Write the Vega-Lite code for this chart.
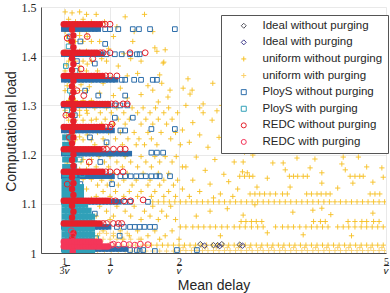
{
"$schema":"https://vega.github.io/schema/vega-lite/v6.json",
"width":345,"height":246,
"autosize":{"type":"none"},
"padding":{"left":41,"top":7,"right":4,"bottom":40},
"background":"white",
"config":{"view":{"stroke":null},
 "axis":{"grid":true,"gridColor":"#e3e3e3","gridWidth":0.8,"domainColor":"#262626","domainWidth":0.8,"tickSize":0,"ticks":false,"labelColor":"#262626","titleColor":"#262626","titleFont":"Liberation Sans","titleFontSize":14,"titleFontWeight":"normal","labelFlush":false,"labelOverlap":false},
 "legend":{"fillColor":"white","strokeColor":"#555555","padding":5,"labelFont":"Liberation Sans","labelFontSize":11.5,"labelColor":"#262626","symbolSize":25,"symbolStrokeWidth":1,"rowPadding":3.6,"labelOffset":13,"symbolOffset":12,"labelLimit":300}},
"datasets":{
"uw":[
{"x":0.35,"y":1.01},{"x":0.45,"y":1.01},{"x":0.56,"y":1.01},{"x":0.66,"y":1.01},
{"x":0.4,"y":1.03},{"x":0.5,"y":1.03},{"x":0.61,"y":1.03},{"x":0.73,"y":1.03},
{"x":0.35,"y":1.05},{"x":0.45,"y":1.05},{"x":0.56,"y":1.05},{"x":0.66,"y":1.05},
{"x":0.4,"y":1.07},{"x":0.5,"y":1.07},{"x":0.61,"y":1.07},{"x":0.73,"y":1.07},
{"x":0.35,"y":1.09},{"x":0.45,"y":1.09},{"x":0.56,"y":1.09},{"x":0.66,"y":1.09},
{"x":0.4,"y":1.11},{"x":0.5,"y":1.11},{"x":0.61,"y":1.11},{"x":0.73,"y":1.11},
{"x":0.35,"y":1.13},{"x":0.45,"y":1.13},{"x":0.56,"y":1.13},{"x":0.66,"y":1.13},
{"x":0.4,"y":1.15},{"x":0.5,"y":1.15},{"x":0.61,"y":1.15},{"x":0.73,"y":1.15},
{"x":0.35,"y":1.17},{"x":0.45,"y":1.17},{"x":0.56,"y":1.17},{"x":0.66,"y":1.17},
{"x":0.4,"y":1.19},{"x":0.5,"y":1.19},{"x":0.61,"y":1.19},{"x":0.73,"y":1.19},
{"x":0.38,"y":1.183},{"x":0.48,"y":1.18},{"x":0.58,"y":1.185},{"x":0.69,"y":1.18},
{"x":0.35,"y":1.21},{"x":0.45,"y":1.21},{"x":0.56,"y":1.21},{"x":0.66,"y":1.21},
{"x":0.4,"y":1.23},{"x":0.5,"y":1.23},{"x":0.61,"y":1.23},{"x":0.73,"y":1.23},
{"x":0.37,"y":1.237},{"x":0.47,"y":1.24},{"x":0.56,"y":1.236},{"x":0.67,"y":1.24},
{"x":0.35,"y":1.25},{"x":0.45,"y":1.25},{"x":0.56,"y":1.25},{"x":0.66,"y":1.25},
{"x":0.4,"y":1.27},{"x":0.5,"y":1.27},{"x":0.61,"y":1.27},{"x":0.73,"y":1.27},
{"x":0.37,"y":1.28},{"x":0.47,"y":1.283},{"x":0.56,"y":1.28},{"x":0.67,"y":1.284},
{"x":0.35,"y":1.29},{"x":0.45,"y":1.29},{"x":0.56,"y":1.29},{"x":0.66,"y":1.29},
{"x":0.4,"y":1.31},{"x":0.5,"y":1.31},{"x":0.61,"y":1.31},{"x":0.73,"y":1.31},
{"x":0.35,"y":1.33},{"x":0.45,"y":1.33},{"x":0.56,"y":1.33},{"x":0.66,"y":1.33},
{"x":0.38,"y":1.34},{"x":0.48,"y":1.338},{"x":0.58,"y":1.342},{"x":0.7,"y":1.338},
{"x":0.4,"y":1.35},{"x":0.5,"y":1.35},{"x":0.61,"y":1.35},{"x":0.73,"y":1.35},
{"x":0.35,"y":1.37},{"x":0.45,"y":1.37},{"x":0.56,"y":1.37},{"x":0.66,"y":1.37},
{"x":0.4,"y":1.39},{"x":0.5,"y":1.39},{"x":0.61,"y":1.39},{"x":0.73,"y":1.39},
{"x":0.37,"y":1.382},{"x":0.47,"y":1.385},{"x":0.56,"y":1.38},{"x":0.67,"y":1.384},
{"x":0.35,"y":1.41},{"x":0.45,"y":1.41},{"x":0.56,"y":1.41},{"x":0.66,"y":1.41},
{"x":0.4,"y":1.43},{"x":0.5,"y":1.43},{"x":0.61,"y":1.43},{"x":0.73,"y":1.43},
{"x":0.37,"y":1.44},{"x":0.47,"y":1.438},{"x":0.56,"y":1.442},{"x":0.67,"y":1.44},
{"x":0.35,"y":1.45},{"x":0.45,"y":1.45},{"x":0.56,"y":1.45},{"x":0.66,"y":1.45},
{"x":0.4,"y":1.475},{"x":0.5,"y":1.47},{"x":0.61,"y":1.475},{"x":0.73,"y":1.47},
{"x":0.35,"y":1.49},{"x":0.45,"y":1.488},{"x":0.56,"y":1.49},{"x":0.66,"y":1.485},
{"x":0.8,"y":1.485},{"x":0.92,"y":1.47},{"x":1.22,"y":1.48},{"x":1.05,"y":1.44},{"x":0.85,"y":1.43},{"x":1.33,"y":1.43},{"x":1.5,"y":1.485},{"x":0.95,"y":1.39},{"x":1.12,"y":1.38},{"x":1.3,"y":1.395},{"x":1.68,"y":1.41},{"x":0.82,"y":1.37},{"x":1.4,"y":1.365},{"x":1.02,"y":1.355},{"x":1.77,"y":1.386},{"x":1.65,"y":1.417},{"x":1.8,"y":1.413},{"x":1.78,"y":1.388},{"x":1.72,"y":1.362},{"x":1.75,"y":1.345},{"x":2.13,"y":1.354},{"x":2.49,"y":1.345},{"x":0.9,"y":1.345},{"x":1.15,"y":1.335},{"x":1.55,"y":1.34},{"x":1.25,"y":1.36},{"x":1.62,"y":1.45},{"x":0.98,"y":1.415},{"x":1.35,"y":1.45},{"x":0.78,"y":1.455},{"x":1.1,"y":1.46},{"x":1.45,"y":1.39},{"x":1.2,"y":1.405},{"x":0.88,"y":1.395},
{"x":2.06,"y":1.335},{"x":1.87,"y":1.331},{"x":2.19,"y":1.331},{"x":2.16,"y":1.323},{"x":1.62,"y":1.331},{"x":1.84,"y":1.317},{"x":1.7,"y":1.307},{"x":2.35,"y":1.303},{"x":2.3,"y":1.295},{"x":2.55,"y":1.289},{"x":1.05,"y":1.32},{"x":1.25,"y":1.315},{"x":1.45,"y":1.322},{"x":0.85,"y":1.325},
{"x":0.78,"y":1.295},{"x":0.95,"y":1.295},{"x":1.1,"y":1.295},{"x":1.32,"y":1.295},{"x":1.48,"y":1.295},{"x":1.66,"y":1.295},{"x":1.85,"y":1.295},
{"x":0.86,"y":1.285},{"x":1.02,"y":1.285},{"x":1.2,"y":1.285},{"x":1.4,"y":1.285},{"x":1.58,"y":1.285},{"x":1.78,"y":1.285},{"x":1.98,"y":1.285},
{"x":0.8,"y":1.272},{"x":0.93,"y":1.272},{"x":1.12,"y":1.272},{"x":1.28,"y":1.272},{"x":1.52,"y":1.272},{"x":1.7,"y":1.272},{"x":1.9,"y":1.272},
{"x":0.88,"y":1.262},{"x":1.05,"y":1.262},{"x":1.22,"y":1.262},{"x":1.45,"y":1.262},{"x":1.62,"y":1.262},{"x":1.82,"y":1.262},
{"x":0.82,"y":1.245},{"x":0.98,"y":1.245},{"x":1.15,"y":1.245},{"x":1.35,"y":1.245},{"x":1.55,"y":1.245},{"x":1.74,"y":1.245},{"x":1.95,"y":1.245},
{"x":0.9,"y":1.232},{"x":1.08,"y":1.232},{"x":1.26,"y":1.232},{"x":1.42,"y":1.232},{"x":1.6,"y":1.232},{"x":1.88,"y":1.232},
{"x":0.78,"y":1.22},{"x":0.95,"y":1.22},{"x":1.18,"y":1.22},{"x":1.38,"y":1.22},{"x":1.5,"y":1.22},{"x":1.68,"y":1.22},{"x":2.02,"y":1.22},
{"x":0.84,"y":1.196},{"x":1.0,"y":1.196},{"x":1.22,"y":1.196},{"x":1.45,"y":1.196},{"x":1.65,"y":1.196},{"x":1.8,"y":1.196},{"x":1.96,"y":1.196},
{"x":0.92,"y":1.185},{"x":1.1,"y":1.185},{"x":1.3,"y":1.185},{"x":1.52,"y":1.185},{"x":1.72,"y":1.185},{"x":1.9,"y":1.185},
{"x":0.8,"y":1.175},{"x":0.98,"y":1.175},{"x":1.18,"y":1.175},{"x":1.4,"y":1.175},{"x":1.6,"y":1.175},{"x":2.05,"y":1.175},
{"x":1.05,"y":1.162},{"x":1.25,"y":1.162},{"x":1.48,"y":1.162},{"x":1.7,"y":1.162},{"x":1.85,"y":1.162},
{"x":0.88,"y":1.148},{"x":1.02,"y":1.148},{"x":1.2,"y":1.148},{"x":1.38,"y":1.148},{"x":1.58,"y":1.148},{"x":1.78,"y":1.148},{"x":1.98,"y":1.148},
{"x":0.82,"y":1.138},{"x":0.96,"y":1.138},{"x":1.12,"y":1.138},{"x":1.32,"y":1.138},{"x":1.55,"y":1.138},{"x":1.72,"y":1.138},{"x":1.92,"y":1.138},
{"x":0.9,"y":1.125},{"x":1.08,"y":1.125},{"x":1.28,"y":1.125},{"x":1.45,"y":1.125},{"x":1.65,"y":1.125},{"x":1.85,"y":1.125},
{"x":0.8,"y":1.115},{"x":1.0,"y":1.115},{"x":1.2,"y":1.115},{"x":1.4,"y":1.115},{"x":1.6,"y":1.115},{"x":1.78,"y":1.115},{"x":1.95,"y":1.115},
{"x":0.85,"y":1.095},{"x":1.1,"y":1.095},{"x":1.35,"y":1.095},{"x":1.62,"y":1.095},{"x":1.88,"y":1.095},
{"x":0.95,"y":1.085},{"x":1.22,"y":1.085},{"x":1.5,"y":1.085},{"x":1.75,"y":1.085},
{"x":0.8,"y":1.075},{"x":1.05,"y":1.075},{"x":1.3,"y":1.075},{"x":1.58,"y":1.075},{"x":1.82,"y":1.075},
{"x":1.0,"y":1.068},{"x":1.45,"y":1.068},{"x":1.7,"y":1.068},{"x":1.95,"y":1.068},
{"x":0.9,"y":1.045},{"x":1.15,"y":1.045},{"x":1.4,"y":1.045},{"x":1.65,"y":1.045},{"x":1.9,"y":1.045},
{"x":0.82,"y":1.035},{"x":1.05,"y":1.035},{"x":1.28,"y":1.035},{"x":1.55,"y":1.035},{"x":1.8,"y":1.035},
{"x":1.18,"y":1.028},{"x":1.45,"y":1.028},{"x":1.72,"y":1.028},{"x":2.0,"y":1.028},
{"x":2.1,"y":1.3},{"x":2.35,"y":1.285},{"x":2.62,"y":1.3},{"x":2.85,"y":1.28},{"x":2.2,"y":1.265},{"x":2.48,"y":1.27},{"x":2.75,"y":1.255},{"x":2.05,"y":1.25},{"x":2.3,"y":1.24},{"x":2.58,"y":1.235},{"x":2.9,"y":1.24},{"x":2.15,"y":1.225},{"x":2.42,"y":1.215},{"x":2.68,"y":1.22},{"x":2.95,"y":1.205},{"x":2.25,"y":1.195},{"x":2.52,"y":1.19},{"x":2.8,"y":1.185},{"x":2.1,"y":1.175},{"x":2.38,"y":1.168},{"x":2.65,"y":1.16},{"x":2.92,"y":1.165},{"x":2.2,"y":1.148},{"x":2.45,"y":1.14},{"x":2.72,"y":1.145},{"x":2.05,"y":1.13},{"x":2.3,"y":1.125},{"x":2.6,"y":1.12},{"x":2.85,"y":1.13},{"x":2.15,"y":1.115},{"x":2.5,"y":1.112},{"x":2.78,"y":1.115},
{"x":4.19,"y":1.22},{"x":4.45,"y":1.222},{"x":4.58,"y":1.215},{"x":4.77,"y":1.22},{"x":3.49,"y":1.226},{"x":3.28,"y":1.226},{"x":3.71,"y":1.193},{"x":3.97,"y":1.191},{"x":3.51,"y":1.183},{"x":3.36,"y":1.183},{"x":4.38,"y":1.195},{"x":4.6,"y":1.195},{"x":4.72,"y":1.175},{"x":4.36,"y":1.181},{"x":3.9,"y":1.173},{"x":3.54,"y":1.169},{"x":4.07,"y":1.163},{"x":4.41,"y":1.169},{"x":4.94,"y":1.173},{"x":4.81,"y":1.144},{"x":4.96,"y":1.154},{"x":4.52,"y":1.142},{"x":4.3,"y":1.132},{"x":3.61,"y":1.134},{"x":4.07,"y":1.142},{"x":3.28,"y":1.152},{"x":3.13,"y":1.134},{"x":2.99,"y":1.163},{"x":2.93,"y":1.185},{"x":3.07,"y":1.199},{"x":3.1,"y":1.098},{"x":3.65,"y":1.083},{"x":3.94,"y":1.087},{"x":4.07,"y":1.091},{"x":4.81,"y":1.081},{"x":2.93,"y":1.077},{"x":3.28,"y":1.041},{"x":3.8,"y":1.037},{"x":3.3,"y":1.26},{"x":3.05,"y":1.245},{"x":3.75,"y":1.25},{"x":4.2,"y":1.265},{"x":4.85,"y":1.255},{"x":3.55,"y":1.28},{"x":2.45,"y":1.085},{"x":2.7,"y":1.09},{"x":2.25,"y":1.075},{"x":2.6,"y":1.035},{"x":4.5,"y":1.035},{"x":4.2,"y":1.078},
{"x":2.88,"y":1.156},{"x":2.95,"y":1.156},{"x":3.02,"y":1.156},{"x":3.07,"y":1.156},{"x":3.6,"y":1.156},{"x":3.66,"y":1.156},{"x":3.72,"y":1.156},{"x":3.8,"y":1.156},{"x":3.86,"y":1.156},{"x":4.48,"y":1.156},{"x":4.55,"y":1.156},{"x":4.62,"y":1.156},{"x":4.67,"y":1.156},
{"x":3.03,"y":1.12},{"x":3.1,"y":1.12},{"x":3.17,"y":1.12},{"x":3.24,"y":1.12},{"x":3.32,"y":1.12},{"x":3.4,"y":1.12},{"x":3.5,"y":1.12},{"x":3.57,"y":1.12},{"x":3.85,"y":1.12},{"x":3.92,"y":1.12},{"x":4.0,"y":1.12},{"x":4.06,"y":1.12},{"x":4.13,"y":1.12},{"x":4.19,"y":1.12},{"x":4.77,"y":1.12},{"x":4.84,"y":1.12},{"x":4.91,"y":1.12},
{"x":1.62,"y":1.104},{"x":1.7,"y":1.104},{"x":1.78,"y":1.104},{"x":1.86,"y":1.104},{"x":1.94,"y":1.104},{"x":2.02,"y":1.104},{"x":2.1,"y":1.104},{"x":2.18,"y":1.104},{"x":2.26,"y":1.104},{"x":2.34,"y":1.104},{"x":2.42,"y":1.104},{"x":2.5,"y":1.104},{"x":2.58,"y":1.104},{"x":2.66,"y":1.104},{"x":2.74,"y":1.104},{"x":2.82,"y":1.104},{"x":2.9,"y":1.104},{"x":2.98,"y":1.104},{"x":3.06,"y":1.104},{"x":3.14,"y":1.104},{"x":3.22,"y":1.104},{"x":3.3,"y":1.104},{"x":3.38,"y":1.104},{"x":3.46,"y":1.104},{"x":3.54,"y":1.104},{"x":3.62,"y":1.104},{"x":3.7,"y":1.104},{"x":3.78,"y":1.104},{"x":3.86,"y":1.104},{"x":3.94,"y":1.104},{"x":4.02,"y":1.104},{"x":4.1,"y":1.104},{"x":4.18,"y":1.104},{"x":4.26,"y":1.104},{"x":4.34,"y":1.104},{"x":4.42,"y":1.104},{"x":4.5,"y":1.104},{"x":4.58,"y":1.104},{"x":4.66,"y":1.104},{"x":4.74,"y":1.104},{"x":4.82,"y":1.104},{"x":4.9,"y":1.104},{"x":4.98,"y":1.104},
{"x":2.9,"y":1.064},{"x":2.97,"y":1.064},{"x":3.05,"y":1.064},{"x":3.12,"y":1.064},{"x":3.2,"y":1.064},{"x":3.95,"y":1.064},{"x":4.05,"y":1.064},{"x":4.12,"y":1.064},{"x":4.45,"y":1.064},{"x":4.55,"y":1.064},{"x":4.65,"y":1.064},{"x":4.72,"y":1.064},{"x":4.82,"y":1.064},{"x":4.9,"y":1.064},
{"x":2.02,"y":1.053},{"x":2.1,"y":1.053},{"x":2.2,"y":1.053},{"x":2.28,"y":1.053},{"x":2.36,"y":1.053},{"x":2.45,"y":1.053},{"x":2.53,"y":1.053},{"x":2.62,"y":1.053},{"x":2.7,"y":1.053},{"x":2.8,"y":1.053},{"x":2.88,"y":1.053},{"x":2.96,"y":1.053},{"x":3.05,"y":1.053},{"x":3.14,"y":1.053},{"x":3.22,"y":1.053},{"x":3.4,"y":1.053},{"x":3.5,"y":1.053},{"x":3.58,"y":1.053},{"x":3.66,"y":1.053},{"x":3.75,"y":1.053},{"x":3.84,"y":1.053},{"x":3.92,"y":1.053},{"x":4.0,"y":1.053},{"x":4.08,"y":1.053},{"x":4.16,"y":1.053},{"x":4.3,"y":1.053},{"x":4.38,"y":1.053},{"x":4.46,"y":1.053},{"x":4.55,"y":1.053},{"x":4.64,"y":1.053},{"x":4.72,"y":1.053},{"x":4.8,"y":1.053},{"x":4.88,"y":1.053},{"x":4.96,"y":1.053},
{"x":1.52,"y":1.016},{"x":1.6,"y":1.016},{"x":1.68,"y":1.016},{"x":1.76,"y":1.016},{"x":1.84,"y":1.016},{"x":1.92,"y":1.016},{"x":2.0,"y":1.016},{"x":2.08,"y":1.016},{"x":2.16,"y":1.016},{"x":2.24,"y":1.016},{"x":2.32,"y":1.016},{"x":2.4,"y":1.016},{"x":2.48,"y":1.016},{"x":2.56,"y":1.016},{"x":2.64,"y":1.016},{"x":2.72,"y":1.016},{"x":2.8,"y":1.016},{"x":2.88,"y":1.016},{"x":2.96,"y":1.016},{"x":3.04,"y":1.016},{"x":3.12,"y":1.016},{"x":3.2,"y":1.016},{"x":3.28,"y":1.016},{"x":3.36,"y":1.016},{"x":3.44,"y":1.016},{"x":3.52,"y":1.016},{"x":3.6,"y":1.016},{"x":3.68,"y":1.016},{"x":3.76,"y":1.016},{"x":3.84,"y":1.016},{"x":3.92,"y":1.016},{"x":4.0,"y":1.016},{"x":4.08,"y":1.016},{"x":4.16,"y":1.016},{"x":4.24,"y":1.016},{"x":4.32,"y":1.016},{"x":4.4,"y":1.016},{"x":4.48,"y":1.016},{"x":4.56,"y":1.016},{"x":4.64,"y":1.016},{"x":4.72,"y":1.016},{"x":4.8,"y":1.016},{"x":4.88,"y":1.016},{"x":4.96,"y":1.016}
],
"up":[
{"x":0.62,"y":1.004},{"x":0.72,"y":1.004},{"x":0.82,"y":1.004},{"x":0.92,"y":1.004},{"x":1.02,"y":1.004},{"x":1.12,"y":1.004},{"x":1.22,"y":1.004},{"x":1.32,"y":1.004},{"x":1.42,"y":1.004},{"x":1.52,"y":1.004},{"x":1.62,"y":1.004},{"x":1.72,"y":1.004},{"x":1.82,"y":1.004},{"x":1.92,"y":1.004},
{"x":0.67,"y":1.016},{"x":0.77,"y":1.016},{"x":0.87,"y":1.016},{"x":0.97,"y":1.016},{"x":1.07,"y":1.016},{"x":1.17,"y":1.016},{"x":1.27,"y":1.016},{"x":1.37,"y":1.016},{"x":1.47,"y":1.016},
{"x":0.7,"y":1.028},{"x":0.8,"y":1.028},{"x":0.9,"y":1.028},{"x":1.0,"y":1.028},{"x":1.1,"y":1.028},{"x":1.2,"y":1.028},{"x":1.3,"y":1.028},{"x":1.42,"y":1.028},
{"x":0.75,"y":1.04},{"x":0.85,"y":1.04},{"x":0.95,"y":1.04},{"x":1.05,"y":1.04},{"x":1.15,"y":1.04},{"x":1.25,"y":1.04},
{"x":2.02,"y":1.005},{"x":2.1,"y":1.005},{"x":2.18,"y":1.005},{"x":2.26,"y":1.005},{"x":2.34,"y":1.005},{"x":2.42,"y":1.005},{"x":2.5,"y":1.005},{"x":2.58,"y":1.005},{"x":2.66,"y":1.005},{"x":2.74,"y":1.005},{"x":2.82,"y":1.005},{"x":2.9,"y":1.005},{"x":2.98,"y":1.005},{"x":3.06,"y":1.005},{"x":3.14,"y":1.005},{"x":3.22,"y":1.005},{"x":3.3,"y":1.005},{"x":3.38,"y":1.005},{"x":3.46,"y":1.005},{"x":3.54,"y":1.005},{"x":3.62,"y":1.005},{"x":3.7,"y":1.005},{"x":3.78,"y":1.005},{"x":3.86,"y":1.005},{"x":3.94,"y":1.005},{"x":4.02,"y":1.005},{"x":4.1,"y":1.005},{"x":4.18,"y":1.005},{"x":4.26,"y":1.005},{"x":4.34,"y":1.005},{"x":4.42,"y":1.005},{"x":4.5,"y":1.005},{"x":4.58,"y":1.005},{"x":4.66,"y":1.005},{"x":4.74,"y":1.005},{"x":4.82,"y":1.005},{"x":4.9,"y":1.005},{"x":4.98,"y":1.005},
{"x":2.06,"y":1.011},{"x":2.22,"y":1.011},{"x":2.38,"y":1.011},{"x":2.54,"y":1.011},{"x":2.7,"y":1.011},{"x":2.86,"y":1.011},{"x":3.02,"y":1.011},{"x":3.18,"y":1.011},{"x":3.34,"y":1.011},{"x":3.5,"y":1.011},{"x":3.66,"y":1.011},{"x":3.82,"y":1.011},{"x":3.98,"y":1.011},{"x":4.14,"y":1.011},{"x":4.3,"y":1.011},{"x":4.46,"y":1.011},{"x":4.62,"y":1.011},{"x":4.78,"y":1.011},{"x":4.94,"y":1.011}
],
"iw":[{"x":2.31,"y":1.018},{"x":2.5,"y":1.016},{"x":2.56,"y":1.016},{"x":2.62,"y":1.018},{"x":2.88,"y":1.017}],
"ip":[{"x":2.37,"y":1.015},{"x":2.59,"y":1.014},{"x":2.92,"y":1.015}],
"pws":[
{"x":0.33,"y":1.455},{"x":0.38,"y":1.455},{"x":0.43,"y":1.455},{"x":0.48,"y":1.455},{"x":0.53,"y":1.455},{"x":0.58,"y":1.455},{"x":0.63,"y":1.455},{"x":0.68,"y":1.455},{"x":0.73,"y":1.455},{"x":0.78,"y":1.455},{"x":0.83,"y":1.455},
{"x":0.33,"y":1.404},{"x":0.38,"y":1.404},{"x":0.43,"y":1.404},{"x":0.48,"y":1.404},{"x":0.53,"y":1.404},{"x":0.58,"y":1.404},{"x":0.63,"y":1.404},{"x":0.68,"y":1.404},{"x":0.73,"y":1.404},{"x":0.78,"y":1.404},{"x":0.83,"y":1.404},{"x":0.88,"y":1.404},
{"x":0.33,"y":1.352},{"x":0.38,"y":1.352},{"x":0.43,"y":1.352},{"x":0.48,"y":1.352},{"x":0.53,"y":1.352},{"x":0.58,"y":1.352},{"x":0.63,"y":1.352},{"x":0.68,"y":1.352},{"x":0.73,"y":1.352},{"x":0.78,"y":1.352},{"x":0.83,"y":1.352},{"x":0.88,"y":1.352},{"x":0.93,"y":1.352},{"x":0.98,"y":1.352},{"x":1.03,"y":1.352},{"x":1.08,"y":1.352},
{"x":0.33,"y":1.3},{"x":0.38,"y":1.3},{"x":0.43,"y":1.3},{"x":0.48,"y":1.3},{"x":0.53,"y":1.3},{"x":0.58,"y":1.3},{"x":0.63,"y":1.3},{"x":0.68,"y":1.3},{"x":0.73,"y":1.3},{"x":0.78,"y":1.3},{"x":0.83,"y":1.3},{"x":0.88,"y":1.3},{"x":0.93,"y":1.3},{"x":0.98,"y":1.3},
{"x":0.33,"y":1.249},{"x":0.38,"y":1.249},{"x":0.43,"y":1.249},{"x":0.48,"y":1.249},{"x":0.53,"y":1.249},{"x":0.58,"y":1.249},{"x":0.63,"y":1.249},{"x":0.68,"y":1.249},{"x":0.73,"y":1.249},{"x":0.78,"y":1.249},{"x":0.83,"y":1.249},{"x":0.88,"y":1.249},{"x":0.93,"y":1.249},{"x":0.98,"y":1.249},{"x":1.03,"y":1.249},
{"x":0.33,"y":1.202},{"x":0.38,"y":1.202},{"x":0.43,"y":1.202},{"x":0.48,"y":1.202},{"x":0.53,"y":1.202},{"x":0.58,"y":1.202},{"x":0.63,"y":1.202},{"x":0.68,"y":1.202},{"x":0.73,"y":1.202},{"x":0.78,"y":1.202},{"x":0.83,"y":1.202},{"x":0.88,"y":1.202},{"x":0.93,"y":1.202},{"x":0.98,"y":1.202},{"x":1.03,"y":1.202},{"x":1.08,"y":1.202},{"x":1.13,"y":1.202},{"x":1.18,"y":1.202},{"x":1.23,"y":1.202},{"x":1.28,"y":1.202},
{"x":0.33,"y":1.156},{"x":0.38,"y":1.156},{"x":0.43,"y":1.156},{"x":0.48,"y":1.156},{"x":0.53,"y":1.156},{"x":0.58,"y":1.156},{"x":0.63,"y":1.156},{"x":0.68,"y":1.156},{"x":0.73,"y":1.156},{"x":0.78,"y":1.156},{"x":0.83,"y":1.156},{"x":0.88,"y":1.156},{"x":0.93,"y":1.156},{"x":0.98,"y":1.156},{"x":1.03,"y":1.156},
{"x":0.33,"y":1.104},{"x":0.38,"y":1.104},{"x":0.43,"y":1.104},{"x":0.48,"y":1.104},{"x":0.53,"y":1.104},{"x":0.58,"y":1.104},{"x":0.63,"y":1.104},{"x":0.68,"y":1.104},{"x":0.73,"y":1.104},{"x":0.78,"y":1.104},{"x":0.83,"y":1.104},{"x":0.88,"y":1.104},{"x":0.93,"y":1.104},{"x":0.98,"y":1.104},{"x":1.03,"y":1.104},{"x":1.08,"y":1.104},{"x":1.13,"y":1.104},
{"x":0.33,"y":1.053},{"x":0.38,"y":1.053},{"x":0.43,"y":1.053},{"x":0.48,"y":1.053},{"x":0.53,"y":1.053},{"x":0.58,"y":1.053},{"x":0.63,"y":1.053},{"x":0.68,"y":1.053},{"x":0.73,"y":1.053},{"x":0.78,"y":1.053},{"x":0.83,"y":1.053},{"x":0.88,"y":1.053},{"x":0.93,"y":1.053},{"x":0.98,"y":1.053},
{"x":0.33,"y":1.008},{"x":0.38,"y":1.008},{"x":0.43,"y":1.008},{"x":0.48,"y":1.008},{"x":0.53,"y":1.008},{"x":0.58,"y":1.008},{"x":0.63,"y":1.008},{"x":0.68,"y":1.008},{"x":0.73,"y":1.008},{"x":0.78,"y":1.008},{"x":0.83,"y":1.008},{"x":0.88,"y":1.008},{"x":0.93,"y":1.008},{"x":0.98,"y":1.008},{"x":1.03,"y":1.008},{"x":1.08,"y":1.008},{"x":1.13,"y":1.008},{"x":1.18,"y":1.008},{"x":1.23,"y":1.008}
],
"pw":[
{"x":0.93,"y":1.455},{"x":1.0,"y":1.455},{"x":1.12,"y":1.455},{"x":1.33,"y":1.455},{"x":1.42,"y":1.455},{"x":1.58,"y":1.455},{"x":1.94,"y":1.455},
{"x":0.95,"y":1.404},{"x":1.07,"y":1.404},{"x":1.17,"y":1.404},{"x":1.29,"y":1.404},{"x":1.39,"y":1.404},{"x":1.43,"y":1.404},
{"x":1.17,"y":1.352},{"x":1.22,"y":1.352},{"x":1.35,"y":1.352},{"x":1.45,"y":1.352},{"x":1.62,"y":1.352},{"x":1.68,"y":1.352},
{"x":1.07,"y":1.3},{"x":1.15,"y":1.3},{"x":1.25,"y":1.3},
{"x":1.15,"y":1.249},{"x":1.22,"y":1.249},{"x":1.6,"y":1.252},{"x":1.94,"y":1.252},
{"x":1.6,"y":1.204},{"x":1.68,"y":1.204},{"x":1.77,"y":1.204},
{"x":1.15,"y":1.156},{"x":1.22,"y":1.156},{"x":1.3,"y":1.156},{"x":1.38,"y":1.156},{"x":1.45,"y":1.156},{"x":1.52,"y":1.156},{"x":1.6,"y":1.156},{"x":1.67,"y":1.156},{"x":1.72,"y":1.156},{"x":1.87,"y":1.156},
{"x":1.22,"y":1.104},{"x":1.29,"y":1.104},{"x":1.55,"y":1.104},
{"x":1.1,"y":1.053},{"x":1.2,"y":1.053},{"x":1.29,"y":1.053},{"x":1.36,"y":1.053},{"x":1.43,"y":1.053},{"x":1.5,"y":1.053},{"x":1.58,"y":1.053},{"x":1.65,"y":1.053},
{"x":1.29,"y":1.006},{"x":1.39,"y":1.006},{"x":1.43,"y":1.004},{"x":1.48,"y":1.006},{"x":1.65,"y":1.004},{"x":1.97,"y":1.006},{"x":2.26,"y":1.006},
{"x":0.42,"y":1.44},{"x":0.57,"y":1.43},{"x":0.52,"y":1.39},{"x":0.78,"y":1.385},{"x":0.93,"y":1.425},{"x":0.64,"y":1.33},{"x":0.83,"y":1.32},{"x":1.07,"y":1.275},{"x":0.49,"y":1.28},{"x":0.71,"y":1.235},{"x":0.86,"y":1.185},{"x":0.57,"y":1.14},{"x":1.03,"y":1.14},{"x":0.78,"y":1.08},{"x":1.14,"y":1.035},{"x":1.22,"y":1.32},{"x":1.33,"y":1.275},{"x":0.95,"y":1.225}
],
"pps":[
{"x":0.34,"y":1.002},{"x":0.39,"y":1.002},{"x":0.44,"y":1.002},{"x":0.49,"y":1.002},{"x":0.54,"y":1.002},{"x":0.59,"y":1.002},{"x":0.64,"y":1.002},{"x":0.69,"y":1.002},{"x":0.74,"y":1.002},
{"x":0.34,"y":1.014},{"x":0.39,"y":1.014},{"x":0.44,"y":1.014},{"x":0.49,"y":1.014},{"x":0.54,"y":1.014},{"x":0.59,"y":1.014},{"x":0.64,"y":1.014},{"x":0.69,"y":1.014},{"x":0.74,"y":1.014},
{"x":0.34,"y":1.026},{"x":0.39,"y":1.026},{"x":0.44,"y":1.026},{"x":0.49,"y":1.026},{"x":0.54,"y":1.026},{"x":0.59,"y":1.026},{"x":0.64,"y":1.026},{"x":0.69,"y":1.026},{"x":0.74,"y":1.026},
{"x":0.34,"y":1.038},{"x":0.39,"y":1.038},{"x":0.44,"y":1.038},{"x":0.49,"y":1.038},{"x":0.54,"y":1.038},{"x":0.59,"y":1.038},{"x":0.64,"y":1.038},{"x":0.69,"y":1.038},{"x":0.74,"y":1.038},
{"x":0.34,"y":1.05},{"x":0.39,"y":1.05},{"x":0.44,"y":1.05},{"x":0.49,"y":1.05},{"x":0.54,"y":1.05},{"x":0.59,"y":1.05},{"x":0.64,"y":1.05},{"x":0.69,"y":1.05},{"x":0.74,"y":1.05},
{"x":0.34,"y":1.062},{"x":0.39,"y":1.062},{"x":0.44,"y":1.062},{"x":0.49,"y":1.062},{"x":0.54,"y":1.062},{"x":0.59,"y":1.062},{"x":0.64,"y":1.062},{"x":0.69,"y":1.062},{"x":0.74,"y":1.062},
{"x":0.34,"y":1.074},{"x":0.39,"y":1.074},{"x":0.44,"y":1.074},{"x":0.49,"y":1.074},{"x":0.54,"y":1.074},{"x":0.59,"y":1.074},{"x":0.64,"y":1.074},{"x":0.69,"y":1.074},{"x":0.74,"y":1.074},
{"x":0.34,"y":1.086},{"x":0.39,"y":1.086},{"x":0.44,"y":1.086},{"x":0.49,"y":1.086},{"x":0.54,"y":1.086},{"x":0.59,"y":1.086},{"x":0.64,"y":1.086},{"x":0.69,"y":1.086},
{"x":0.34,"y":1.098},{"x":0.39,"y":1.098},{"x":0.44,"y":1.098},{"x":0.49,"y":1.098},{"x":0.54,"y":1.098},{"x":0.59,"y":1.098},{"x":0.64,"y":1.098},
{"x":0.34,"y":1.11},{"x":0.4,"y":1.11},{"x":0.46,"y":1.11},{"x":0.52,"y":1.11},{"x":0.58,"y":1.11},
{"x":0.34,"y":1.122},{"x":0.4,"y":1.122},{"x":0.46,"y":1.122},{"x":0.52,"y":1.122},{"x":0.58,"y":1.122},
{"x":0.34,"y":1.134},{"x":0.4,"y":1.134},{"x":0.46,"y":1.134},{"x":0.52,"y":1.134},{"x":0.58,"y":1.134},
{"x":0.34,"y":1.146},{"x":0.4,"y":1.146},{"x":0.46,"y":1.146},{"x":0.52,"y":1.146},
{"x":0.35,"y":1.16},{"x":0.42,"y":1.16},{"x":0.48,"y":1.16},
{"x":0.35,"y":1.175},{"x":0.42,"y":1.175},{"x":0.48,"y":1.175},
{"x":0.35,"y":1.19},{"x":0.42,"y":1.19},{"x":0.48,"y":1.19},
{"x":0.35,"y":1.205},{"x":0.42,"y":1.205},
{"x":0.35,"y":1.22},{"x":0.42,"y":1.22},
{"x":0.35,"y":1.235},{"x":0.42,"y":1.235}
],
"pp":[
{"x":0.38,"y":1.29},{"x":0.42,"y":1.33},{"x":0.36,"y":1.38},{"x":0.4,"y":1.42},{"x":0.45,"y":1.32},{"x":0.5,"y":1.37},{"x":0.6,"y":1.16},{"x":0.56,"y":1.19},{"x":0.8,"y":1.03},{"x":0.84,"y":1.012},{"x":0.78,"y":1.06}
],
"rws":[
{"x":0.33,"y":1.465},{"x":0.37,"y":1.465},{"x":0.41,"y":1.465},{"x":0.45,"y":1.465},{"x":0.49,"y":1.465},{"x":0.53,"y":1.465},{"x":0.57,"y":1.465},{"x":0.61,"y":1.465},{"x":0.65,"y":1.465},{"x":0.69,"y":1.465},{"x":0.73,"y":1.465},{"x":0.77,"y":1.465},{"x":0.81,"y":1.465},{"x":0.85,"y":1.465},
{"x":0.33,"y":1.407},{"x":0.37,"y":1.407},{"x":0.41,"y":1.407},{"x":0.45,"y":1.407},{"x":0.49,"y":1.407},{"x":0.53,"y":1.407},{"x":0.57,"y":1.407},{"x":0.61,"y":1.407},{"x":0.65,"y":1.407},{"x":0.69,"y":1.407},{"x":0.73,"y":1.407},{"x":0.77,"y":1.407},{"x":0.81,"y":1.407},
{"x":0.33,"y":1.36},{"x":0.37,"y":1.36},{"x":0.41,"y":1.36},{"x":0.45,"y":1.36},{"x":0.49,"y":1.36},{"x":0.53,"y":1.36},{"x":0.57,"y":1.36},{"x":0.61,"y":1.36},{"x":0.65,"y":1.36},{"x":0.69,"y":1.36},{"x":0.73,"y":1.36},{"x":0.77,"y":1.36},{"x":0.81,"y":1.36},{"x":0.85,"y":1.36},{"x":0.89,"y":1.36},
{"x":0.33,"y":1.303},{"x":0.37,"y":1.303},{"x":0.41,"y":1.303},{"x":0.45,"y":1.303},{"x":0.49,"y":1.303},{"x":0.53,"y":1.303},{"x":0.57,"y":1.303},{"x":0.61,"y":1.303},{"x":0.65,"y":1.303},{"x":0.69,"y":1.303},{"x":0.73,"y":1.303},{"x":0.77,"y":1.303},{"x":0.81,"y":1.303},{"x":0.85,"y":1.303},{"x":0.89,"y":1.303},{"x":0.93,"y":1.303},{"x":0.97,"y":1.303},
{"x":0.33,"y":1.256},{"x":0.37,"y":1.256},{"x":0.41,"y":1.256},{"x":0.45,"y":1.256},{"x":0.49,"y":1.256},{"x":0.53,"y":1.256},{"x":0.57,"y":1.256},{"x":0.61,"y":1.256},{"x":0.65,"y":1.256},{"x":0.69,"y":1.256},{"x":0.73,"y":1.256},{"x":0.77,"y":1.256},{"x":0.81,"y":1.256},{"x":0.85,"y":1.256},{"x":0.89,"y":1.256},
{"x":0.33,"y":1.211},{"x":0.37,"y":1.211},{"x":0.41,"y":1.211},{"x":0.45,"y":1.211},{"x":0.49,"y":1.211},{"x":0.53,"y":1.211},{"x":0.57,"y":1.211},{"x":0.61,"y":1.211},{"x":0.65,"y":1.211},{"x":0.69,"y":1.211},{"x":0.73,"y":1.211},{"x":0.77,"y":1.211},{"x":0.81,"y":1.211},{"x":0.85,"y":1.211},
{"x":0.33,"y":1.165},{"x":0.37,"y":1.165},{"x":0.41,"y":1.165},{"x":0.45,"y":1.165},{"x":0.49,"y":1.165},{"x":0.53,"y":1.165},{"x":0.57,"y":1.165},{"x":0.61,"y":1.165},{"x":0.65,"y":1.165},{"x":0.69,"y":1.165},{"x":0.73,"y":1.165},{"x":0.77,"y":1.165},{"x":0.81,"y":1.165},{"x":0.85,"y":1.165},{"x":0.89,"y":1.165},
{"x":0.33,"y":1.106},{"x":0.37,"y":1.106},{"x":0.41,"y":1.106},{"x":0.45,"y":1.106},{"x":0.49,"y":1.106},{"x":0.53,"y":1.106},{"x":0.57,"y":1.106},{"x":0.61,"y":1.106},{"x":0.65,"y":1.106},{"x":0.69,"y":1.106},{"x":0.73,"y":1.106},{"x":0.77,"y":1.106},{"x":0.81,"y":1.106},{"x":0.85,"y":1.106},{"x":0.89,"y":1.106},{"x":0.93,"y":1.106},{"x":0.97,"y":1.106},
{"x":0.33,"y":1.06},{"x":0.37,"y":1.06},{"x":0.41,"y":1.06},{"x":0.45,"y":1.06},{"x":0.49,"y":1.06},{"x":0.53,"y":1.06},{"x":0.57,"y":1.06},{"x":0.61,"y":1.06},{"x":0.65,"y":1.06},{"x":0.69,"y":1.06},{"x":0.73,"y":1.06},{"x":0.77,"y":1.06},{"x":0.81,"y":1.06},{"x":0.85,"y":1.06},
{"x":0.45,"y":1.028},{"x":0.47,"y":1.04},{"x":0.45,"y":1.072},{"x":0.47,"y":1.084},{"x":0.45,"y":1.096},{"x":0.47,"y":1.118},{"x":0.45,"y":1.13},{"x":0.47,"y":1.142},{"x":0.45,"y":1.154},{"x":0.47,"y":1.177},{"x":0.45,"y":1.189},{"x":0.47,"y":1.2},{"x":0.45,"y":1.223},{"x":0.47,"y":1.235},{"x":0.45,"y":1.247},{"x":0.47,"y":1.268},{"x":0.45,"y":1.28},{"x":0.47,"y":1.292},{"x":0.45,"y":1.315},{"x":0.47,"y":1.327},{"x":0.45,"y":1.339},{"x":0.47,"y":1.35},{"x":0.45,"y":1.372},{"x":0.47,"y":1.384},{"x":0.45,"y":1.396},{"x":0.47,"y":1.418},{"x":0.45,"y":1.43},{"x":0.47,"y":1.442},{"x":0.45,"y":1.454}
],
"rw":[
{"x":0.89,"y":1.465},{"x":0.93,"y":1.465},{"x":1.0,"y":1.465},
{"x":0.86,"y":1.407},{"x":0.9,"y":1.407},{"x":1.0,"y":1.407},{"x":1.29,"y":1.407},{"x":1.51,"y":1.407},
{"x":0.94,"y":1.36},{"x":1.0,"y":1.36},{"x":1.1,"y":1.36},
{"x":1.02,"y":1.303},{"x":1.08,"y":1.303},{"x":1.19,"y":1.303},{"x":1.25,"y":1.303},
{"x":0.94,"y":1.256},{"x":1.0,"y":1.256},{"x":1.03,"y":1.262},
{"x":0.9,"y":1.211},{"x":0.95,"y":1.211},{"x":1.05,"y":1.211},{"x":1.15,"y":1.211},{"x":1.22,"y":1.211},
{"x":0.94,"y":1.165},{"x":1.0,"y":1.165},{"x":1.1,"y":1.165},{"x":1.19,"y":1.165},
{"x":1.02,"y":1.106},{"x":1.08,"y":1.106},{"x":1.2,"y":1.106},{"x":1.3,"y":1.106},{"x":1.48,"y":1.108},
{"x":0.9,"y":1.06},{"x":0.95,"y":1.06},{"x":1.05,"y":1.06},{"x":1.12,"y":1.06},{"x":1.17,"y":1.06},
{"x":0.38,"y":1.437},{"x":0.58,"y":1.374},{"x":0.75,"y":1.395},{"x":0.62,"y":1.32},{"x":0.36,"y":1.28},{"x":0.41,"y":1.235},{"x":0.7,"y":1.185},{"x":0.38,"y":1.14},{"x":0.52,"y":1.33},{"x":0.67,"y":1.44}
],
"rps":[
{"x":0.33,"y":1.013},{"x":0.37,"y":1.013},{"x":0.41,"y":1.013},{"x":0.45,"y":1.013},{"x":0.49,"y":1.013},{"x":0.53,"y":1.013},{"x":0.57,"y":1.013},{"x":0.61,"y":1.013},{"x":0.65,"y":1.013},{"x":0.69,"y":1.013},{"x":0.73,"y":1.013},{"x":0.77,"y":1.013},{"x":0.81,"y":1.013},{"x":0.85,"y":1.013},{"x":0.89,"y":1.013},{"x":0.93,"y":1.013},{"x":0.97,"y":1.013},
{"x":0.33,"y":1.023},{"x":0.37,"y":1.023},{"x":0.41,"y":1.023},{"x":0.45,"y":1.023},{"x":0.49,"y":1.023},{"x":0.53,"y":1.023},{"x":0.57,"y":1.023},{"x":0.61,"y":1.023},{"x":0.65,"y":1.023},{"x":0.69,"y":1.023},{"x":0.73,"y":1.023},{"x":0.77,"y":1.023},{"x":0.81,"y":1.023},{"x":0.85,"y":1.023},
{"x":0.46,"y":1.003}
],
"rp":[
{"x":1.02,"y":1.016},{"x":1.05,"y":1.018},{"x":1.12,"y":1.016},{"x":1.2,"y":1.018},{"x":1.28,"y":1.017},{"x":1.36,"y":1.016},{"x":1.44,"y":1.018},{"x":1.55,"y":1.017},
{"x":0.46,"y":1.035},{"x":0.44,"y":1.045}
]
},
"encoding":{
 "x":{"field":"x","type":"quantitative","title":"Mean delay",
  "scale":{"domain":[0,5],"nice":false,"zero":false},
  "axis":{"values":[0.3333333333,1,2,5],"labelExpr":"datum.value < 0.5 ? ['1','3\u0305𝑣\u0305'] : [format(datum.value,'d'),'𝑣\u0305']","labelFont":"Liberation Serif","labelFontSize":10,"labelLineHeight":9.5,"labelBaseline":"alphabetic","labelPadding":11,"titleBaseline":"alphabetic","titleY":36.5}},
 "y":{"field":"y","type":"quantitative","title":"Computational load",
  "scale":{"domain":[1,1.5],"nice":false,"zero":false},
  "axis":{"values":[1,1.1,1.2,1.3,1.4,1.5],"labelExpr":"datum.value == 1 ? '1' : format(datum.value,'.1f')","labelFont":"Liberation Serif","labelFontSize":12,"labelPadding":5,"titleAngle":-90,"titleBaseline":"alphabetic","titleX":-26,"titleY":124,"titleAlign":"center"}}
},
"layer":[
{"data":{"name":"uw"},"mark":{"type":"point","filled":false,"opacity":1,"size":28,"strokeWidth":0.9,"clip":true},
 "encoding":{
  "color":{"datum":"uniform without purging","type":"nominal",
   "scale":{"domain":["Ideal without purging","Ideal with purging","uniform without purging","uniform with purging","PloyS without purging","PloyS with purging","REDC without purging","REDC with purging"],"range":["#55555f","#3e3a8c","#f6c023","#fbd06a","#2d6eab","#30a0b8","#e5202a","#f4365a"]},
   "legend":{"title":null,"orient":"none","legendX":180,"legendY":8}},
  "shape":{"datum":"uniform without purging","type":"nominal",
   "scale":{"domain":["Ideal without purging","Ideal with purging","uniform without purging","uniform with purging","PloyS without purging","PloyS with purging","REDC without purging","REDC with purging"],"range":["diamond","diamond","M-1,0H1M0,-1V1","M-1,0H1M0,-1V1","square","square","circle","circle"]},
   "legend":{"title":null,"orient":"none","legendX":180,"legendY":8}}}},
{"data":{"name":"up"},"mark":{"type":"point","filled":false,"opacity":1,"size":28,"strokeWidth":0.9,"clip":true},
 "encoding":{"color":{"datum":"uniform with purging","type":"nominal"},"shape":{"datum":"uniform with purging","type":"nominal"}}},
{"data":{"name":"iw"},"mark":{"type":"point","filled":false,"opacity":1,"size":30,"strokeWidth":1,"clip":true},
 "encoding":{"color":{"datum":"Ideal without purging","type":"nominal"},"shape":{"datum":"Ideal without purging","type":"nominal"}}},
{"data":{"name":"ip"},"mark":{"type":"point","filled":false,"opacity":1,"size":30,"strokeWidth":1,"clip":true},
 "encoding":{"color":{"datum":"Ideal with purging","type":"nominal"},"shape":{"datum":"Ideal with purging","type":"nominal"}}},
{"data":{"name":"pws"},"mark":{"type":"point","filled":true,"opacity":1,"size":30,"shape":"square","color":"#2d6eab","clip":true},"encoding":{}},
{"data":{"name":"pw"},"mark":{"type":"point","filled":false,"opacity":1,"size":22,"strokeWidth":1,"clip":true},
 "encoding":{"color":{"datum":"PloyS without purging","type":"nominal"},"shape":{"datum":"PloyS without purging","type":"nominal"}}},
{"data":{"name":"pps"},"mark":{"type":"point","filled":true,"opacity":1,"size":36,"shape":"square","color":"#30a0b8","clip":true},"encoding":{}},
{"data":{"name":"pp"},"mark":{"type":"point","filled":false,"opacity":1,"size":22,"strokeWidth":1,"clip":true},
 "encoding":{"color":{"datum":"PloyS with purging","type":"nominal"},"shape":{"datum":"PloyS with purging","type":"nominal"}}},
{"data":{"name":"rws"},"mark":{"type":"point","filled":true,"opacity":1,"size":42,"shape":"circle","color":"#e5202a","clip":true},"encoding":{}},
{"data":{"name":"rw"},"mark":{"type":"point","filled":false,"opacity":1,"size":34,"strokeWidth":1,"clip":true},
 "encoding":{"color":{"datum":"REDC without purging","type":"nominal"},"shape":{"datum":"REDC without purging","type":"nominal"}}},
{"data":{"name":"rps"},"mark":{"type":"point","filled":true,"opacity":1,"size":42,"shape":"circle","color":"#f4365a","clip":true},"encoding":{}},
{"data":{"name":"rp"},"mark":{"type":"point","filled":false,"opacity":1,"size":34,"strokeWidth":1,"clip":true},
 "encoding":{"color":{"datum":"REDC with purging","type":"nominal"},"shape":{"datum":"REDC with purging","type":"nominal"}}}
]
}
